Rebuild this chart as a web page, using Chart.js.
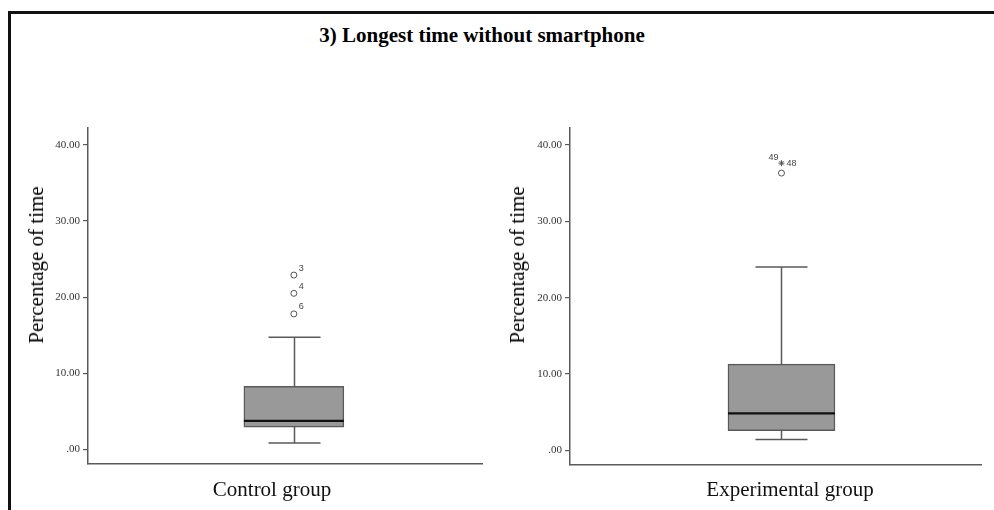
<!DOCTYPE html>
<html>
<head>
<meta charset="utf-8">
<script src="https://cdn.jsdelivr.net/npm/chart.js@4.4.1/dist/chart.umd.min.js"></script>
<style>
  body { margin: 0; width: 994px; height: 510px; background: #fff; position: relative; overflow: hidden; font-family: "Liberation Serif", "Times New Roman", serif; }
  #frame { position: absolute; left: 8px; top: 11px; width: 1000px; height: 520px; border-top: 3px solid #111; border-left: 3px solid #111; }
  #title { position: absolute; top: 23px; left: 0; width: 964px; text-align: center; font-weight: bold; font-size: 21px; color: #000; }
  .group { position: absolute; top: 477px; font-size: 21px; color: #111; transform: translateX(-50%); white-space: nowrap; }
  .ytitle { position: absolute; top: 265px; font-size: 21px; color: #000; white-space: nowrap; line-height: 24px; transform: translate(-50%, -50%) rotate(-90deg); }
  canvas { position: absolute; top: 100px; }
</style>
</head>
<body>
<div id="frame"></div>
<div id="title">3) Longest time without smartphone</div>
<canvas id="controlChart" width="495" height="380" style="left:0px"></canvas>
<canvas id="expChart" width="497" height="380" style="left:497px"></canvas>
<div class="ytitle" style="left:36px">Percentage of time</div>
<div class="ytitle" style="left:517px">Percentage of time</div>
<div class="group" style="left:272px">Control group</div>
<div class="group" style="left:790px">Experimental group</div>

<script>
// data
const groups = ["Control group", "Experimental group"];
const whiskerLow = [0.85, 1.45];
const q1 = [2.95, 2.6];
const median = [3.75, 4.85];
const q3 = [8.3, 11.3];
const whiskerHigh = [14.75, 24.0];
const outlierValues = [[22.9, 20.5, 17.8], [36.3, 37.6]];
const outlierLabels = [["3", "4", "6"], ["49", "48"]];
const outlierKinds = [["circle", "circle", "circle"], ["circle", "star"]];
const tickValues = [0, 10, 20, 30, 40];

// layout / style
const boxPos = [0.527, 0.516];
const boxWidth = [100, 107];
const capWidth = 52;
const labelOffsets = [[[5, -7], [5, -7], [5, -7]], [[-13, -16], [5, 0]]];
const lineColor = "#5a5a5a";

const boxParts = {
  id: "boxParts",
  beforeDatasetsDraw(chart) {
    const g = chart.options.plugins.boxParts.group;
    const ctx = chart.ctx;
    const xs = chart.scales.x, ys = chart.scales.y;
    const cx = Math.round(xs.getPixelForValue(boxPos[g])) + 0.5;
    const lo = ys.getPixelForValue(whiskerLow[g]);
    const hi = ys.getPixelForValue(whiskerHigh[g]);
    ctx.save();
    ctx.strokeStyle = lineColor;
    ctx.lineWidth = 1.5;
    ctx.beginPath();
    ctx.moveTo(cx, lo); ctx.lineTo(cx, hi);
    ctx.moveTo(cx - capWidth / 2, lo); ctx.lineTo(cx + capWidth / 2, lo);
    ctx.moveTo(cx - capWidth / 2, hi); ctx.lineTo(cx + capWidth / 2, hi);
    ctx.stroke();
    ctx.restore();
  },
  afterDatasetsDraw(chart) {
    const g = chart.options.plugins.boxParts.group;
    const ctx = chart.ctx;
    const xs = chart.scales.x, ys = chart.scales.y;
    const bar = chart.getDatasetMeta(0).data[0];
    const my = ys.getPixelForValue(median[g]);
    ctx.save();
    ctx.strokeStyle = "#111";
    ctx.lineWidth = 2.2;
    ctx.beginPath();
    ctx.moveTo(bar.x - bar.width / 2, my);
    ctx.lineTo(bar.x + bar.width / 2, my);
    ctx.stroke();

    ctx.fillStyle = "#444";
    ctx.font = "9px 'Liberation Sans', Arial, sans-serif";
    ctx.textAlign = "left";
    ctx.textBaseline = "middle";
    const cx = xs.getPixelForValue(boxPos[g]);
    outlierValues[g].forEach((v, i) => {
      const py = ys.getPixelForValue(v);
      const off = labelOffsets[g][i];
      ctx.fillText(outlierLabels[g][i], cx + off[0], py + off[1]);
    });
    ctx.restore();
  }
};

function makeChart(canvasId, g, padLeft, yWidth, padBottom) {
  return new Chart(document.getElementById(canvasId), {
    type: "bar",
    data: {
      datasets: [
        {
          label: groups[g],
          data: [{ x: boxPos[g], y: [q1[g], q3[g]] }],
          backgroundColor: "#999999",
          borderColor: lineColor,
          borderWidth: 1.5,
          borderSkipped: false,
          barThickness: boxWidth[g]
        },
        {
          type: "scatter",
          data: outlierValues[g].map(v => ({ x: boxPos[g], y: v })),
          pointStyle: outlierKinds[g],
          pointRadius: 3,
          backgroundColor: "#fff",
          borderColor: "#555",
          borderWidth: 1
        }
      ]
    },
    options: {
      responsive: false,
      animation: false,
      devicePixelRatio: 1,
      events: [],
      layout: { padding: { top: 28, bottom: padBottom, left: padLeft, right: 13 } },
      plugins: {
        legend: { display: false },
        tooltip: { enabled: false },
        boxParts: { group: g }
      },
      scales: {
        x: {
          type: "linear",
          min: 0,
          max: 1,
          ticks: { display: false },
          grid: { display: true, drawOnChartArea: false, drawTicks: false },
          border: { color: lineColor, width: 1.5 },
          afterFit: s => { s.height = 0; }
        },
        y: {
          min: -1.9,
          max: 42.2,
          afterBuildTicks: s => { s.ticks = tickValues.map(v => ({ value: v })); },
          ticks: {
            color: "#333",
            font: { family: "'Liberation Serif', serif", size: 11 },
            padding: 3,
            callback: v => v === 0 ? ".00" : v.toFixed(2)
          },
          grid: { drawOnChartArea: false, tickLength: 5, color: lineColor, lineWidth: 1.2 },
          border: { color: lineColor, width: 1.5 },
          afterFit: s => { s.width = yWidth; }
        }
      }
    },
    plugins: [boxParts]
  });
}

makeChart("controlChart", 0, 20, 68, 16);
makeChart("expChart", 1, 4, 69, 15);
</script>
</body>
</html>
